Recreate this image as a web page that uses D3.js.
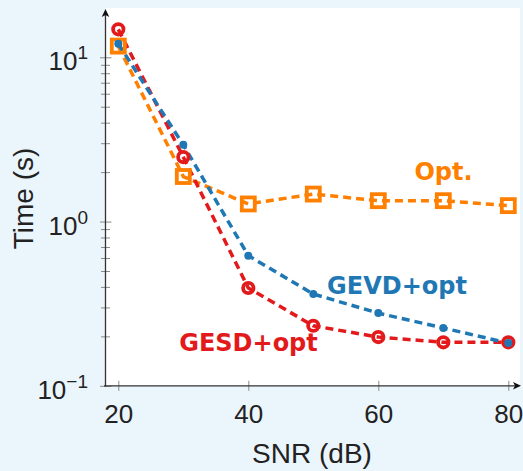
<!DOCTYPE html>
<html><head><meta charset="utf-8">
<script src="https://cdn.jsdelivr.net/npm/d3@7"></script>
<style>
html,body{margin:0;padding:0;background:#ebf5fc;}
svg{display:block;}
</style></head>
<body>
<svg id="c" width="523" height="471"></svg>
<script>
const snr = [20, 30, 40, 50, 60, 70, 80];
const gesd = [14.8, 2.47, 0.394, 0.232, 0.198, 0.184, 0.184];
const gevd = [12.1, 2.93, 0.62, 0.362, 0.277, 0.225, 0.182];
const opt = [11.7, 1.88, 1.28, 1.47, 1.34, 1.34, 1.25];
const xTicks = [20, 40, 60, 80];
const yMajor = [0.1, 1, 10];
const yMajorExp = ["\u22121", "0", "1"];
const yMinor = [0.2,0.3,0.4,0.5,0.6,0.7,0.8,0.9,2,3,4,5,6,7,8,9];
const seriesNames = ["Opt.", "GESD+opt", "GEVD+opt"];

const svg = d3.select("#c");
const x = d3.scaleLinear().domain([20, 80]).range([118.3, 508.3]);
const y = d3.scaleLog().domain([0.1, 10]).range([385.8, 57.3]);

const axX = 105.5, axY = 385.8;
// plot area
svg.append("rect").attr("x", 106).attr("y", 8).attr("width", 414).attr("height", axY - 8).attr("fill", "#ffffff");

// y axis minor ticks
const gMinor = svg.append("g").attr("transform", `translate(${axX},0)`)
  .call(d3.axisLeft(y).tickValues(yMinor).tickFormat("").tickSizeOuter(0));
gMinor.select(".domain").remove();
gMinor.selectAll(".tick line").attr("x1", -4.5).attr("x2", 4.5).attr("stroke", "#8a8a8a").attr("stroke-width", 1);

const gMajor = svg.append("g").attr("transform", `translate(${axX},0)`)
  .call(d3.axisLeft(y).tickValues(yMajor).tickFormat("").tickSizeOuter(0));
gMajor.select(".domain").remove();
gMajor.selectAll(".tick line").attr("x1", -5.5).attr("x2", 6).attr("stroke", "#8a8a8a").attr("stroke-width", 1);

// y labels
const ylab = svg.append("g");
yMajor.forEach((v, i) => {
  const t = ylab.append("text").attr("x", 88).attr("y", y(v) + 13)
    .attr("text-anchor", "end").attr("font-family", "Liberation Sans, Arial, sans-serif")
    .attr("font-size", 26).attr("fill", "#222");
  t.append("tspan").text("10");
  t.append("tspan").attr("dy", -11).attr("font-size", 19).text(yMajorExp[i]);
});

// x axis
const gx = svg.append("g").attr("transform", `translate(0,${axY})`)
  .call(d3.axisBottom(x).tickValues(xTicks).tickSizeOuter(0));
gx.select(".domain").remove();
gx.selectAll(".tick line").attr("y1", -5).attr("y2", 5).attr("stroke", "#8a8a8a").attr("stroke-width", 1);
gx.selectAll(".tick text").attr("y", 0).attr("dy", 0).attr("transform", "translate(0,37)")
  .attr("font-family", "Liberation Sans, Arial, sans-serif").attr("font-size", 26).attr("fill", "#222");

// axis lines with arrows
svg.append("line").attr("x1", 104).attr("x2", 518).attr("y1", axY).attr("y2", axY).attr("stroke", "#333").attr("stroke-width", 1.3);
svg.append("line").attr("x1", axX).attr("x2", axX).attr("y1", axY + 0.6).attr("y2", 12).attr("stroke", "#333").attr("stroke-width", 1.3);
svg.append("path").attr("d", `M${521},${axY} L${513},${axY-3.8} L${515},${axY} L${513},${axY+3.8} Z`).attr("fill", "#111");
svg.append("path").attr("d", `M${axX},9 L${axX-3.8},17 L${axX},15 L${axX+3.8},17 Z`).attr("fill", "#111");

// axis titles
svg.append("text").attr("x", 312).attr("y", 463).attr("text-anchor", "middle")
  .attr("font-family", "Liberation Sans, Arial, sans-serif").attr("font-size", 28).attr("fill", "#222").text("SNR (dB)");
svg.append("text").attr("transform", "translate(33,198.5) rotate(-90)").attr("text-anchor", "middle")
  .attr("font-family", "Liberation Sans, Arial, sans-serif").attr("font-size", 28).attr("fill", "#222").text("Time (s)");

const colOpt = "#ff7f00", colGesd = "#e31a1c", colGevd = "#1f78b4";
const line = d3.line().x((d, i) => x(snr[i])).y(d => y(d));

function drawLine(vals, col) {
  svg.append("path").datum(vals).attr("d", line).attr("fill", "none")
    .attr("stroke", col).attr("stroke-width", 3.5).attr("stroke-dasharray", "8,5");
}
drawLine(opt, colOpt);
drawLine(gesd, colGesd);
drawLine(gevd, colGevd);

// markers
svg.append("g").selectAll("rect").data(opt).join("rect")
  .attr("x", (d, i) => x(snr[i]) - 6.5).attr("y", d => y(d) - 6.5)
  .attr("width", 13).attr("height", 13).attr("fill", "none").attr("stroke", colOpt).attr("stroke-width", 3.8);
svg.append("g").selectAll("circle").data(gesd).join("circle")
  .attr("cx", (d, i) => x(snr[i])).attr("cy", d => y(d)).attr("r", 5.2)
  .attr("fill", "none").attr("stroke", colGesd).attr("stroke-width", 3.8);
svg.append("g").selectAll("circle").data(gevd).join("circle")
  .attr("cx", (d, i) => x(snr[i])).attr("cy", d => y(d)).attr("r", 4)
  .attr("fill", colGevd);

// series labels
const lab = [
  {t: seriesNames[0], x: 443.5, y: 180, c: colOpt},
  {t: seriesNames[2], x: 397, y: 294, c: colGevd},
  {t: seriesNames[1], x: 248.5, y: 350.5, c: colGesd}
];
svg.append("g").selectAll("text").data(lab).join("text")
  .attr("x", d => d.x).attr("y", d => d.y).attr("text-anchor", "middle")
  .attr("font-family", "DejaVu Sans, sans-serif").attr("font-weight", "bold").attr("font-size", 24)
  .attr("fill", d => d.c).text(d => d.t);
</script>
</body></html>
